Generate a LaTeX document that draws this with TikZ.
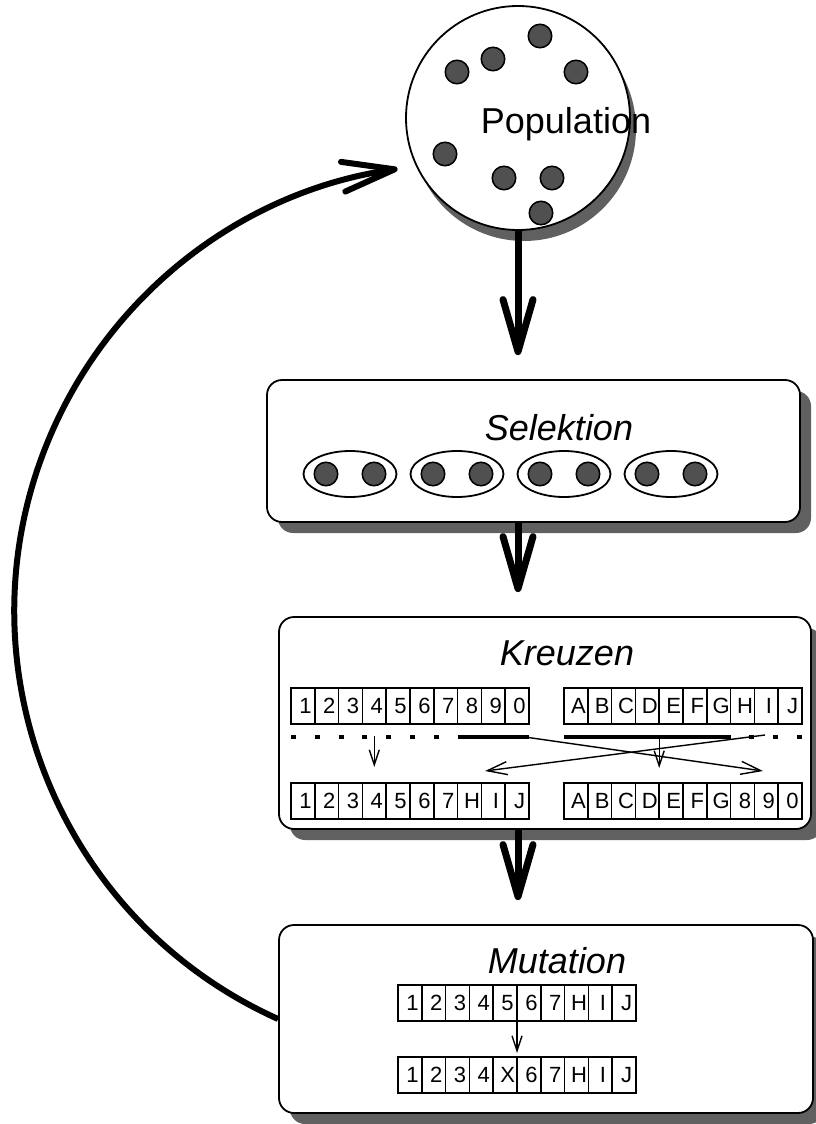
\documentclass[tikz,border=0pt]{standalone}
\usepackage{fontspec}
\setmainfont{Liberation Sans}
\usetikzlibrary{arrows.meta,shapes.geometric,shadows}
\definecolor{shadowgray}{RGB}{96,96,96}
\definecolor{dotgray}{RGB}{80,80,80}

\begin{document}
\begin{tikzpicture}[x=1pt, y=-1pt,
    stagebox/.style={draw, line width=1.8pt, rounded corners=15pt, fill=white, inner sep=0pt,
      drop shadow={shadow xshift=11pt, shadow yshift=-11pt, fill=shadowgray, opacity=1}},
    member/.style={circle, draw, line width=1.5pt, fill=dotgray, minimum size=23.5pt, inner sep=0pt},
    couple/.style={ellipse, draw, line width=1.8pt, fill=white, minimum width=93pt, minimum height=46pt, inner sep=0pt},
    genecell/.style={draw, line width=1.6pt, minimum width=23.8pt, minimum height=36pt, inner sep=0pt, outer sep=0pt,
      text height=15.75pt, text depth=0pt, font=\fontsize{22}{22}\selectfont,
      execute at begin node={\hspace*{5pt}}},
    stagetitle/.style={anchor=base, font=\fontsize{36}{40}\selectfont\itshape},
    flowarrow/.style={line width=7pt, shorten >=24pt, -{Straight Barb[length=52pt, width=30pt, round]}},
    looparrow/.style={line width=6pt, -{Straight Barb[length=52pt, width=30pt, round]}},
    swaparrow/.style={line width=1.4pt, -{Straight Barb[length=20pt, width=13pt]}},
    passarrow/.style={line width=1.4pt, -{Straight Barb[length=15pt, width=10pt]}},
    cutline/.style={line width=4.5pt}
]
    \useasboundingbox (0,0) rectangle (816,1124);

    % Population
    \node[circle, draw, line width=1.8pt, fill=white, minimum size=224pt, inner sep=0pt,
      drop shadow={shadow xshift=6pt, shadow yshift=-11pt, fill=shadowgray, opacity=1}] (pop) at (518,118) {};
    \foreach \x/\y [count=\i] in {540/36, 493/59, 457/72, 576/72, 445/154, 504/178, 552/178, 541/213}
      \node[member] (m\i) at (\x,\y) {};
    \node[anchor=base, font=\fontsize{36}{40}\selectfont] (poplabel) at (566,133) {Population};

    % Stages
    \node[stagebox, minimum width=533pt, minimum height=142pt] (sel) at (533.5,451) {};
    \node[stagebox, minimum width=532pt, minimum height=212pt] (kreuz) at (545,723) {};
    \node[stagebox, minimum width=534pt, minimum height=188pt] (mut) at (546,1019) {};

    \node[stagetitle] (seltitle) at (559,440) {Selektion};
    \node[stagetitle] (kreuztitle) at (567,665) {Kreuzen};
    \node[stagetitle] (muttitle) at (557,973) {Mutation};

    % Selektion: pairs
    \foreach \i in {1,...,4} {
      \node[couple] (p\i) at (243+107*\i, 474) {};
      \node[member] (pa\i) at (219+107*\i, 474) {};
      \node[member] (pb\i) at (267+107*\i, 474) {};
    }

    % Kreuzen: parents and children
    \foreach \c [count=\i] in {1,2,3,4,5,6,7,8,9,0}
      \node[genecell] (ka\i) at (279.1+23.8*\i, 706) {\c};
    \foreach \c [count=\i] in {A,B,C,D,E,F,G,H,I,J}
      \node[genecell] (kb\i) at (552.1+23.8*\i, 706) {\c};
    \foreach \c [count=\i] in {1,2,3,4,5,6,7,H,I,J}
      \node[genecell] (kc\i) at (279.1+23.8*\i, 801) {\c};
    \foreach \c [count=\i] in {A,B,C,D,E,F,G,8,9,0}
      \node[genecell] (kd\i) at (552.1+23.8*\i, 801) {\c};

    \draw[cutline, dash pattern=on 5pt off 18.8pt] ([yshift=-13pt]ka1.south west) -- ([yshift=-13pt]ka8.south west);
    \draw[cutline] ([yshift=-13pt]ka8.south west) -- ([yshift=-13pt]ka10.south east);
    \draw[cutline] ([yshift=-13pt]kb1.south west) -- ([yshift=-13pt]kb7.south east);
    \draw[cutline, dash pattern=on 5pt off 18.8pt, dash phase=5pt] ([yshift=-13pt]kb8.south west) -- ([yshift=-13pt]kb10.south east);

    \coordinate (cutleft) at (525,737);
    \coordinate (cutright) at (765,735);
    \coordinate (tipright) at (763,771);
    \coordinate (tipleft) at (485,771);
    \draw[swaparrow] (cutleft) -- (tipright);
    \draw[swaparrow] (cutright) -- (tipleft);
    \draw[passarrow] ([yshift=-12pt]ka4.south) -- ([yshift=16pt]kc4.north);
    \draw[passarrow] ([yshift=-13pt]kb4.south east) -- ([yshift=15pt]kd4.north east);

    % Mutation
    \foreach \c [count=\i] in {1,2,3,4,5,6,7,H,I,J}
      \node[genecell] (ma\i) at (386.1+23.8*\i, 1003) {\c};
    \foreach \c [count=\i] in {1,2,3,4,X,6,7,H,I,J}
      \node[genecell] (mb\i) at (386.1+23.8*\i, 1075) {\c};
    \draw[passarrow] (ma5.south east) -- ([yshift=4pt]mb5.north east);

    % Flow
    \draw[flowarrow] (pop.south) -- (pop.south |- sel.north);
    \draw[flowarrow] (pop.south |- sel.south) -- (pop.south |- kreuz.north);
    \draw[flowarrow] (pop.south |- kreuz.south) -- (pop.south |- mut.north);
    \draw[looparrow] (mut.west) arc[start angle=114.2, end angle=261.8, radius=447];

\end{tikzpicture}
\end{document}
